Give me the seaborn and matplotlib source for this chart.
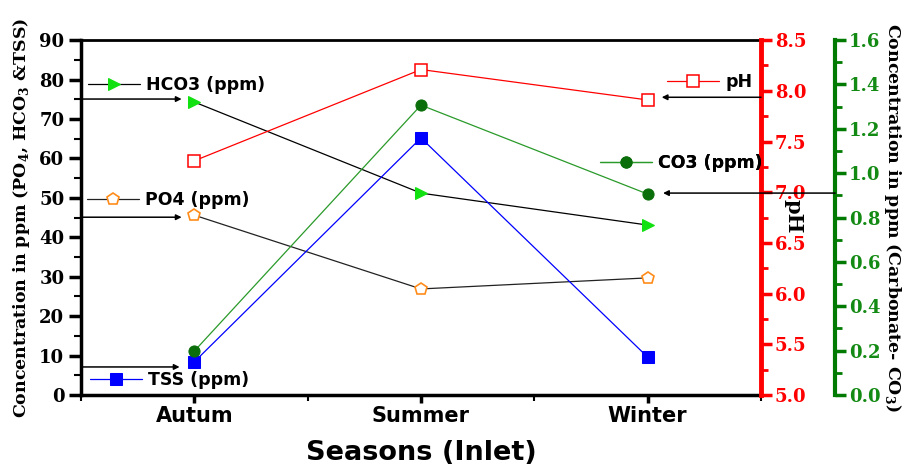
import numpy as np
import matplotlib
matplotlib.use('Agg')
import matplotlib.pyplot as plt
from matplotlib.ticker import MultipleLocator, FormatStrFormatter
import seaborn as sns

seasons = ['Autum', 'Summer', 'Winter']
hco3 = [74.3, 51.2, 43.1]
po4 = [45.6, 26.9, 29.7]
tss = [8.4, 65.2, 9.6]
ph = [7.31, 8.21, 7.91]
co3 = [0.198, 1.307, 0.906]

sns.set_style('ticks')
plt.rcParams['font.family'] = ['DejaVu Serif']
plt.rcParams['font.weight'] = 'bold'
plt.rcParams['axes.labelweight'] = 'bold'
plt.rcParams['text.color'] = 'black'
plt.rcParams['axes.labelcolor'] = 'black'
plt.rcParams['axes.edgecolor'] = 'black'
plt.rcParams['xtick.color'] = 'black'
plt.rcParams['ytick.color'] = 'black'
plt.rcParams['mathtext.fontset'] = 'custom'
plt.rcParams['mathtext.rm'] = 'DejaVu Serif:bold'
plt.rcParams['mathtext.bf'] = 'DejaVu Serif:bold'

sans = 'DejaVu Sans'
red = '#ff0000'
green = '#138a13'
xpos = np.arange(len(seasons))

fig = plt.figure(figsize=(9.14, 4.70), dpi=100)
ax = fig.add_axes([0.0886, 0.1596, 0.744, 0.755])
ax2 = ax.twinx()
ax3 = ax.twinx()
ax3.spines['right'].set_position(('axes', 1.109))

# left axis series
sns.lineplot(x=xpos, y=hco3, ax=ax, color='black', lw=0.9, marker='>', ms=9,
             markerfacecolor='#11e011', markeredgecolor='#11e011')
l_hco3 = ax.lines[-1]
sns.lineplot(x=xpos, y=po4, ax=ax, color='#222222', lw=0.9, marker='p', ms=9,
             markerfacecolor='white', markeredgecolor='#ff8c1a', markeredgewidth=1.2)
l_po4 = ax.lines[-1]
sns.lineplot(x=xpos, y=tss, ax=ax, color='#0000ff', lw=0.9, marker='s', ms=8,
             markerfacecolor='#0000ff', markeredgecolor='#0000ff')
l_tss = ax.lines[-1]

# pH axis
sns.lineplot(x=xpos, y=ph, ax=ax2, color=red, lw=0.9, marker='s', ms=8,
             markerfacecolor='white', markeredgecolor=red, markeredgewidth=1.1)
l_ph = ax2.lines[-1]

# carbonate axis
sns.lineplot(x=xpos, y=co3, ax=ax3, color='#2a9a2a', lw=0.9, marker='o', ms=8,
             markerfacecolor='#0a6e0a', markeredgecolor='#0a6e0a')
l_co3 = ax3.lines[-1]

# x axis
ax.set_xlim(-0.5, 2.5)
ax.set_xticks(xpos)
ax.set_xticklabels(seasons, fontfamily=sans, fontweight='bold', fontsize=15)
ax.xaxis.set_minor_locator(MultipleLocator(0.5))
ax.tick_params(axis='x', which='major', direction='out', length=6, width=2.5, color='black', pad=2)
ax.tick_params(axis='x', which='minor', direction='out', length=4, width=1.5, color='black')
ax.set_xlabel('Seasons (Inlet)', fontfamily=sans, fontweight='bold', fontsize=19.5, labelpad=10)

# left y
ax.set_ylim(0, 90)
ax.yaxis.set_major_locator(MultipleLocator(10))
ax.yaxis.set_minor_locator(MultipleLocator(5))
ax.tick_params(axis='y', which='major', direction='out', length=9, width=2.5, labelsize=13, pad=3)
ax.tick_params(axis='y', which='minor', direction='out', length=5, width=1.5)
ax.set_ylabel(r'Concentration in ppm (PO$_\mathbf{4}$, HCO$_\mathbf{3}$ &TSS)', fontsize=12.5,
              fontweight='bold', labelpad=5)
for s in ['left', 'bottom']:
    ax.spines[s].set_linewidth(2.5)
ax.spines['top'].set_linewidth(2)
ax.spines['right'].set_visible(False)

# pH axis styling
ax2.set_ylim(5.0, 8.5)
ax2.yaxis.set_major_locator(MultipleLocator(0.5))
ax2.yaxis.set_minor_locator(MultipleLocator(0.25))
ax2.yaxis.set_major_formatter(FormatStrFormatter('%.1f'))
ax2.spines['right'].set_color(red)
ax2.spines['right'].set_linewidth(3.5)
for s in ['left', 'top', 'bottom']:
    ax2.spines[s].set_visible(False)
ax2.tick_params(axis='y', which='major', direction='out', length=8, width=2.5, color=red,
                labelcolor=red, labelsize=13, pad=2)
ax2.tick_params(axis='y', which='minor', direction='out', length=5, width=2, color=red)
ax2.set_ylabel('pH', rotation=270, fontsize=15, fontweight='bold')
ax2.yaxis.set_label_coords(1.063, 0.505)

# carbonate axis styling
ax3.set_ylim(0, 1.6)
ax3.yaxis.set_major_locator(MultipleLocator(0.2))
ax3.yaxis.set_minor_locator(MultipleLocator(0.1))
ax3.yaxis.set_major_formatter(FormatStrFormatter('%.1f'))
ax3.spines['right'].set_color('#007a00')
ax3.spines['right'].set_linewidth(3)
for s in ['left', 'top', 'bottom']:
    ax3.spines[s].set_visible(False)
ax3.tick_params(axis='y', which='major', direction='out', length=8, width=2.5, color='#007a00',
                labelcolor=green, labelsize=13, pad=2)
ax3.tick_params(axis='y', which='minor', direction='out', length=5, width=2, color='#007a00')
ax3.set_ylabel(r'Concentration in ppm (Carbonate- CO$_\mathbf{3}$)', rotation=270, fontsize=12.5,
               fontweight='bold', labelpad=16)

# in-plot legend entries
entries = [
    (l_hco3, 'HCO3 (ppm)', (0.010, 0.873)),
    (l_po4, 'PO4 (ppm)', (0.009, 0.549)),
    (l_tss, 'TSS (ppm)', (0.013, 0.042)),
    (l_ph, 'pH', (0.862, 0.882)),
    (l_co3, 'CO3 (ppm)', (0.763, 0.654)),
]
for h, lab, anchor in entries:
    leg = ax3.legend([h], [lab], loc='center left', bbox_to_anchor=anchor, frameon=False,
                     handlelength=3.0, handletextpad=0.35, borderpad=0, borderaxespad=0,
                     prop={'family': sans, 'weight': 'bold', 'size': 12.5})
    for t in leg.get_texts():
        t.set_color('black')
    ax3.add_artist(leg)

# pointer arrows
arrows = [
    ((0.0, 0.834), (0.148, 0.834)),
    ((0.0, 0.501), (0.148, 0.501)),
    ((0.0, 0.079), (0.145, 0.079)),
    ((1.0, 0.839), (0.854, 0.839)),
    ((1.109, 0.569), (0.856, 0.569)),
]
for start, end in arrows:
    ax3.annotate('', xy=end, xytext=start, xycoords='axes fraction', textcoords='axes fraction',
                 arrowprops=dict(arrowstyle='-|>', color='black', lw=1.1, mutation_scale=8,
                                 shrinkA=0, shrinkB=0), annotation_clip=False)

fig.savefig('out.png', dpi=100)
